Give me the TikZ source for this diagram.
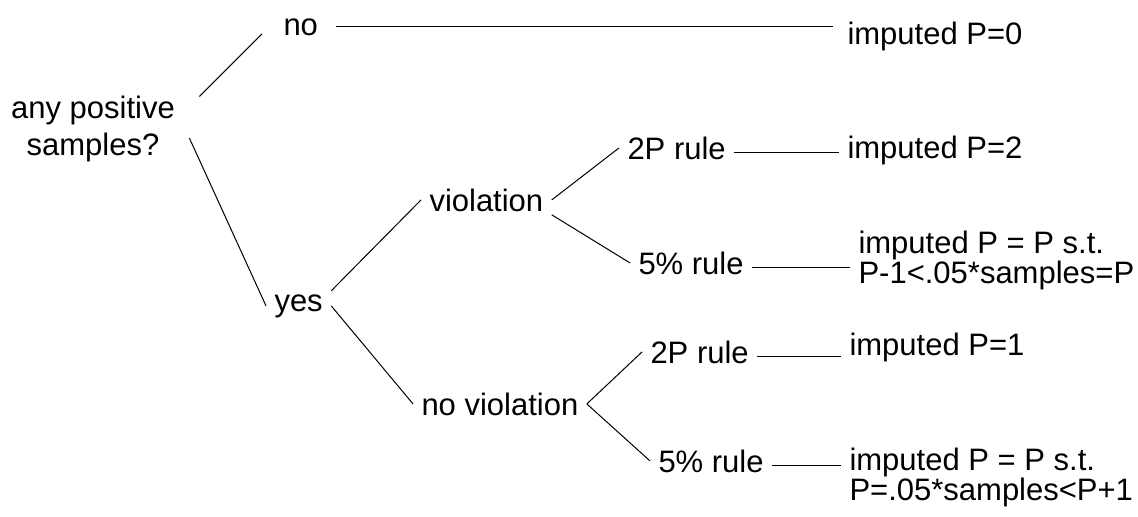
\documentclass[tikz,border=0pt]{standalone}
\usepackage{fontspec}
\setmainfont{Liberation Sans}
\usepackage{tikz}
\tikzset{txt/.style = {anchor = base west, inner xsep = 4pt, inner ysep = 1.5pt, font = \fontsize{15.5}{18.5}\selectfont}}
\tikzset{twoline/.style = {txt, anchor = north west, align = left, font = \fontsize{15.5}{15}\selectfont}}

\begin{document}
\begin{tikzpicture}[x = 0.5pt, y = -0.5pt, line width = 0.5pt]
			\useasboundingbox[fill = white] (0,0) rectangle (1138,516);
			\node (q) at (93,128.5) [txt, anchor = center, align = center] {any positive\\samples?};
			\node (no) at (275,35) [txt] {no};
			\node (yes) at (266,311) [txt] {yes};
			\node (viol) at (421,211) [txt] {violation};
			\node (noviol) at (413,415) [txt] {no violation};
			\node (twoa) at (619,159) [txt] {2P rule};
			\node (fivea) at (630,274) [txt] {5\% rule};
			\node (twob) at (642,363) [txt] {2P rule};
			\node (fiveb) at (650,472) [txt] {5\% rule};
			\node (pzero) at (839,44) [txt] {imputed P=0};
			\node (ptwo) at (839,158) [txt] {imputed P=2};
			\node (pone) at (841,355) [txt] {imputed P=1};
			\node (pvia) at (850,227.5) [twoline] {imputed P = P s.t.\\P-1<.05*samples=P};
			\node (pnov) at (841,444.5) [twoline] {imputed P = P s.t.\\P=.05*samples<P+1};
			\draw ([shift = {(16,4.5)}]q.north east) edge ([shift = {(-13,-5)}]no.south west);
			\draw ([shift = {(6,9.5)}]q.east) edge (yes.west);
			\draw ([xshift = 5pt]no.east) edge ([xshift = -3pt]no.east -| pzero.west);
			\draw (yes.north east) edge (viol.west);
			\draw (yes.east) edge (noviol.west);
			\draw (viol.east) edge (twoa.west);
			\draw (viol.south east) edge (fivea.west);
			\draw ([yshift = -2.5pt]twoa.east) edge ([yshift = -2.5pt]twoa.east -| ptwo.west);
			\draw ([yshift = -2.5pt]fivea.east) edge ([yshift = -2.5pt]fivea.east -| pvia.west);
			\draw (noviol.east) edge (twob.west);
			\draw (noviol.east) edge (fiveb.west);
			\draw ([yshift = -2.5pt]twob.east) edge ([yshift = -2.5pt]twob.east -| pone.west);
			\draw ([yshift = -2.5pt]fiveb.east) edge ([yshift = -2.5pt]fiveb.east -| pnov.west);
\end{tikzpicture}
\end{document}
